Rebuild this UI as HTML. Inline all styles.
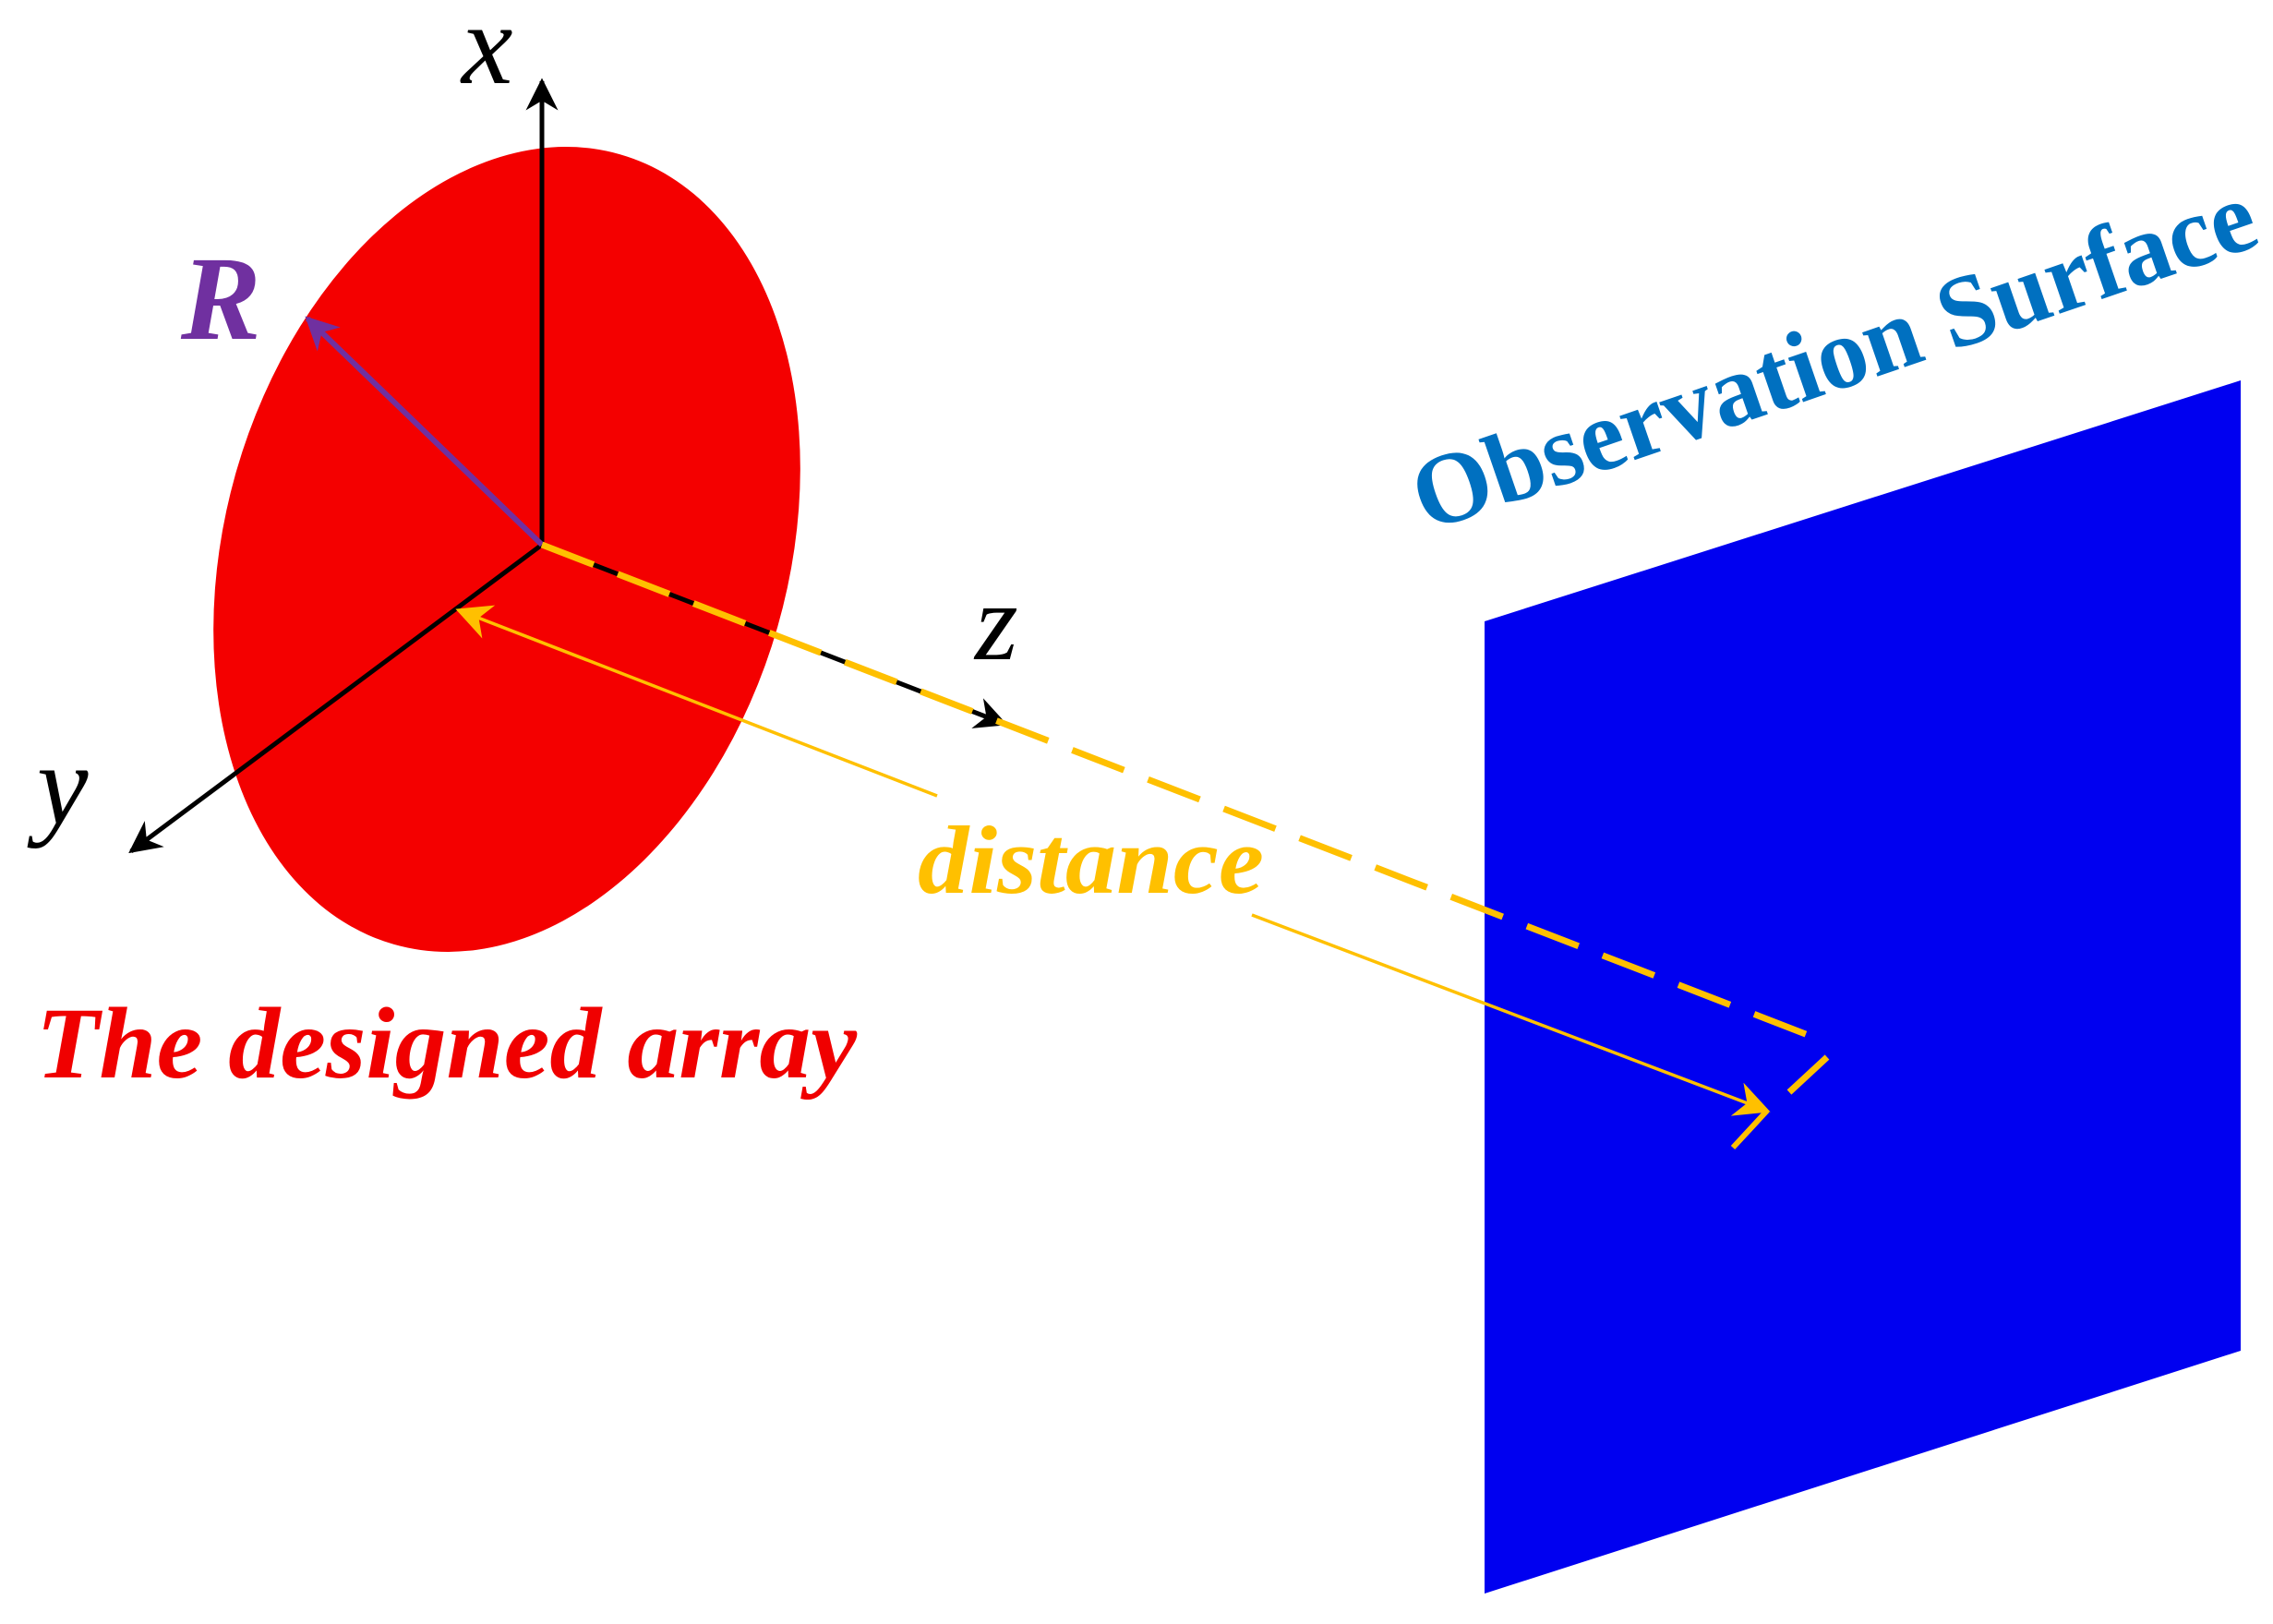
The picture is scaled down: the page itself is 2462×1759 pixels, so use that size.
<!DOCTYPE html>
<html><head><meta charset="utf-8"><style>html,body{margin:0;padding:0;background:#fff}svg{display:block}text{font-family:"Liberation Serif",serif}</style></head>
<body>
<svg width="2462" height="1759" viewBox="0 0 2462 1759" xmlns="http://www.w3.org/2000/svg">
<defs>
<marker id="ab" viewBox="0 0 10 10" refX="9" refY="5" markerWidth="7" markerHeight="7" orient="auto" markerUnits="strokeWidth"><path d="M0,0 L10,5 L0,10 L3,5 z" fill="#000"/></marker>
<marker id="ap" viewBox="0 0 10 10" refX="9" refY="5" markerWidth="6" markerHeight="6" orient="auto" markerUnits="strokeWidth"><path d="M0,0 L10,5 L0,10 L3,5 z" fill="#7030a0"/></marker>
<marker id="ay" viewBox="0 0 10 10" refX="9" refY="5" markerWidth="11" markerHeight="11" orient="auto" markerUnits="strokeWidth"><path d="M0,0 L10,5 L0,10 L3,5 z" fill="#ffc000"/></marker>
</defs>
<ellipse cx="549" cy="595" rx="305" ry="445" transform="rotate(16 549 595)" fill="#f40000"/>
<polygon points="1608,673 2427,412 2427,1463 1608,1726" fill="#0000f0"/>
<line x1="587" y1="590" x2="587" y2="88" stroke="#000" stroke-width="5" marker-end="url(#ab)"/>
<line x1="587" y1="590" x2="142" y2="922" stroke="#000" stroke-width="5" marker-end="url(#ab)"/>
<line x1="587" y1="590" x2="1088" y2="784" stroke="#000" stroke-width="5" marker-end="url(#ab)"/>
<line x1="587" y1="590" x2="333" y2="345" stroke="#7030a0" stroke-width="6" marker-end="url(#ap)"/>
<line x1="587" y1="590" x2="1979" y2="1129" stroke="#ffc000" stroke-width="7" stroke-dasharray="60,28"/>
<line x1="1979" y1="1145" x2="1938" y2="1183" stroke="#ffc000" stroke-width="7"/>
<line x1="1015" y1="862" x2="497" y2="661" stroke="#ffc000" stroke-width="3.5" marker-end="url(#ay)"/>
<line x1="1356" y1="991" x2="1914" y2="1203" stroke="#ffc000" stroke-width="3.5" marker-end="url(#ay)"/>
<line x1="1914" y1="1203" x2="1877" y2="1243" stroke="#ffc000" stroke-width="6"/>
<g font-style="italic">
<text x="500" y="90" font-size="125" fill="#000">x</text>
<text x="40" y="892" font-size="125" fill="#000">y</text>
<text x="1056" y="714" font-size="120" fill="#000">z</text>
<text x="196" y="367" font-size="130" font-weight="bold" fill="#7030a0">R</text>
<text x="994" y="967" font-size="105" font-weight="bold" fill="#ffc000" textLength="375" lengthAdjust="spacingAndGlyphs">distance</text>
<text x="39" y="1167" font-size="110" font-weight="bold" fill="#f00000" textLength="889" lengthAdjust="spacingAndGlyphs">The designed array</text>
</g>
<text x="0" y="0" transform="translate(1545,576) rotate(-19)" font-weight="bold" font-size="110" fill="#0070c0" textLength="958" lengthAdjust="spacingAndGlyphs">Observation Surface</text>
</svg>
</body></html>
